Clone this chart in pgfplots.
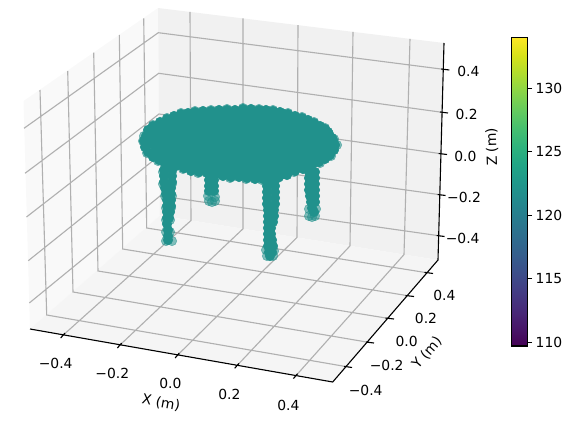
\documentclass[border=0pt]{standalone}
\usepackage{fontspec}
\setmainfont{DejaVu Sans}
\usepackage{pgfplots}
\pgfplotsset{compat=1.18}
\definecolor{ptcol}{HTML}{21918C}
\definecolor{panex}{HTML}{F9F9F9}
\definecolor{paney}{HTML}{F1F1F1}
\definecolor{panez}{HTML}{F5F5F5}
\definecolor{gridc}{HTML}{B0B0B0}
% the 3D view is perspective, so everything is given in projected picture
% coordinates (pixels of the 577x432 figure, y downward)
\begin{document}
\begin{tikzpicture}[every node/.style={font=\fontsize{10bp}{12bp}\selectfont,inner sep=0pt}]
\useasboundingbox (0,0) rectangle (415.44bp,311.04bp);
\begin{axis}[
    at={(0,0)}, anchor=south west,
    scale only axis,
    width=415.44bp, height=311.04bp,
    xmin=0, xmax=577, ymin=0, ymax=432,
    y dir=reverse,
    hide axis,
    clip=false,
    unbounded coords=jump,
    colormap/viridis,
    point meta min=109.7, point meta max=134,
    colorbar,
    colorbar style={
        at={(359.93bp,61.9bp)}, anchor=south west,
        width=11.2bp, height=222.3bp,
        ytick={110,115,120,125,130},
        ytick pos=right,
        tick align=outside,
        major tick length=3.5bp,
        tick style={draw=black,line width=0.8bp},
        axis line style={line width=0.8bp},
        every axis/.append style={line width=0.8bp},
        yticklabel style={font=\fontsize{10bp}{12bp}\selectfont,/pgf/number format/assume math mode=true,xshift=2.2bp},
    },
]
% panes
\addplot[fill=panex,draw=none] coordinates {(30,329) (160,215.5) (158,8) (23.5,101)} -- cycle;
\addplot[fill=paney,draw=none] coordinates {(160,215.5) (438,260) (444,43) (158,8)} -- cycle;
\addplot[fill=panez,draw=none] coordinates {(30,329) (332.7,382) (438,260) (160,215.5)} -- cycle;
% grid
\addplot[gridc,line width=0.8bp] coordinates {
 (190,11.9) (191,220.5) (63.3,335) (nan,nan)
 (243,18.4) (243,228.8) (120,345) (nan,nan)
 (298,25.1) (297,237.4) (177.7,355) (nan,nan)
 (353,31.9) (350,245.9) (237.3,365.3) (nan,nan)
 (410,38.8) (404,254.6) (296,375.6) (nan,nan)
 (40,90) (46.7,315) (346.7,366.7) (nan,nan)
 (67.7,71) (73,292) (368.3,342.3) (nan,nan)
 (93.7,52.7) (98,271) (387.7,318.3) (nan,nan)
 (119.3,35) (122.7,249) (407.7,295.7) (nan,nan)
 (143.7,18.3) (146.7,228) (426.7,272.7) (nan,nan)
 (24,128.3) (158.3,32.7) (443.3,69.3) (nan,nan)
 (25,173.3) (158.7,73.3) (442,112.3) (nan,nan)
 (26.5,217) (159,114) (441,153.7) (nan,nan)
 (28.3,260.7) (159.5,155.5) (439.8,194.7) (nan,nan)
 (29.3,303) (160,196) (438.7,235.7)
};
% axis lines and ticks
\addplot[black,line width=0.8bp] coordinates {
 (30,329) (332.7,382) (438,260) (444,43) (nan,nan)
 (64.9,333.1) (60.7,338) (nan,nan)
 (121.6,343.1) (117.4,348) (nan,nan)
 (179.3,353.1) (175.1,358) (nan,nan)
 (238.9,363.4) (234.7,368.3) (nan,nan)
 (297.6,373.7) (293.4,378.6) (nan,nan)
 (344,366.3) (352,367.5) (nan,nan)
 (366,342) (374,343) (nan,nan)
 (385.5,318) (394,319) (nan,nan)
 (405.5,295.5) (414,296.5) (nan,nan)
 (424.5,272.3) (433,273.5) (nan,nan)
 (441.3,69) (449.3,70) (nan,nan)
 (440,112) (448,113) (nan,nan)
 (438.7,153.5) (447,154.5) (nan,nan)
 (437.7,194.5) (445.5,195.5) (nan,nan)
 (436.7,235.5) (444.5,236.5)
};
% seat rim and legs, single translucent points
\addplot[only marks,mark=*,mark size=3.4bp,mark options={draw=ptcol,line width=0.4bp,fill=ptcol,fill opacity=0.55,draw opacity=0.55}] coordinates {
 (144,136)(153,125)(167,118)(181,113)(195,111)(211,110)(227,109)(243,108)(259,109)(273,110)(288,113)(302,117)(314,122)(325,128)(334,139)(337,145)(331,156)(320,163)
 (143,141)(147,153)(158,161)
 (166,165)(183,169)(198,173)(214,175)(230,178)(246,179)(262,180)(278,178)(294,172)(310,167)
 (163,172)(172,172)(163,184)(172,184)(165,196)(172,196)(166,208)(171,208)(166,220)(170,220)(166,232)(170,232)(166,241)(172,241)
 (267,256)(273,256)(266,250)(274,251)
 (208,196)(215,197)(209,201)(215,201)(212,202)
 (309,216)(315,216)(312,217)(309,209)(316,209)
};
% seat body and leg cores, where the points overlap until they are opaque
\addplot[only marks,mark=*,mark size=3.4bp,mark options={draw=ptcol,line width=0.4bp,fill=ptcol}] coordinates {
 (188,114)(196,114)(204,114)(212,114)(220,114)(228,114)(236,114)(244,114)(252,114)(260,114)(268,114)(276,114)(284,114)
 (168,120)(176,120)(184,120)(192,120)(200,120)(208,120)(216,120)(224,120)(232,120)(240,120)(248,120)(256,120)(264,120)(272,120)(280,120)(288,120)(296,120)(304,120)
 (156,126)(164,126)(172,126)(180,126)(188,126)(196,126)(204,126)(212,126)(220,126)(228,126)(236,126)(244,126)(252,126)(260,126)(268,126)(276,126)(284,126)(292,126)(300,126)(308,126)(316,126)
 (152,132)(160,132)(168,132)(176,132)(184,132)(192,132)(200,132)(208,132)(216,132)(224,132)(232,132)(240,132)(248,132)(256,132)(264,132)(272,132)(280,132)(288,132)(296,132)(304,132)(312,132)(320,132)(328,132)
 (148,138)(156,138)(164,138)(172,138)(180,138)(188,138)(196,138)(204,138)(212,138)(220,138)(228,138)(236,138)(244,138)(252,138)(260,138)(268,138)(276,138)(284,138)(292,138)(300,138)(308,138)(316,138)(324,138)(332,138)
 (152,144)(160,144)(168,144)(176,144)(184,144)(192,144)(200,144)(208,144)(216,144)(224,144)(232,144)(240,144)(248,144)(256,144)(264,144)(272,144)(280,144)(288,144)(296,144)(304,144)(312,144)(320,144)(328,144)
 (156,150)(164,150)(172,150)(180,150)(188,150)(196,150)(204,150)(212,150)(220,150)(228,150)(236,150)(244,150)(252,150)(260,150)(268,150)(276,150)(284,150)(292,150)(300,150)(308,150)(316,150)(324,150)(332,150)
 (160,156)(168,156)(176,156)(184,156)(192,156)(200,156)(208,156)(216,156)(224,156)(232,156)(240,156)(248,156)(256,156)(264,156)(272,156)(280,156)(288,156)(296,156)(304,156)(312,156)(320,156)(328,156)
 (164,162)(172,162)(180,162)(188,162)(196,162)(204,162)(212,162)(220,162)(228,162)(236,162)(244,162)(252,162)(260,162)(268,162)(276,162)(284,162)(292,162)(300,162)(308,162)(316,162)
 (184,168)(192,168)(200,168)(208,168)(216,168)(224,168)(232,168)(240,168)(248,168)(256,168)(264,168)(272,168)(280,168)(288,168)(296,168)(304,168)
 (212,174)(220,174)(228,174)(236,174)(244,174)(252,174)(260,174)(268,174)(276,174)(284,174)
 (146,136)(148,130)(153,126)(160,122)(167,119)(174,116)(181,114)(188,113)(195,112)(203,111)(211,111)(219,110)(227,110)(235,110)(243,109)(251,109)(259,110)(266,110)(273,111)(280,112)(288,114)(295,116)(302,118)(308,120)(314,123)(320,126)(325,129)(329,134)(333,140)(335,145)(334,150)(330,155)(325,159)(319,162)
 (144,141)(145,147)(148,152)(153,157)(159,160)(167,164)(176,166)
 (184,168)(191,171)(199,172)(207,173)(215,174)(223,176)(231,177)(239,177)(247,178)(255,179)(263,179)(271,179)(279,177)(287,175)(295,171)(303,169)(311,166)
 (164,170)(172,170)(164,176)(172,176)(164,182)(172,182)(165,188)(171,188)(166,194)(171,194)(167,200)(171,200)(167,206)(171,206)(167,212)(170,212)(167,218)(169,218)(167,224)(168,230)(168,236)(168,240)
 (267,180)(275,180)(267,186)(275,186)(267,192)(275,192)(267,198)(275,198)(267,204)(275,204)(268,210)(274,210)(268,216)(274,216)(268,222)(273,222)(268,228)(271,228)(268,234)(271,234)(268,240)(272,240)(268,246)(273,246)(269,252)(272,252)(270,256)
 (209,180)(214,180)(209,186)(214,186)(209,191)(214,191)
 (309,172)(315,172)(309,178)(315,178)(309,184)(315,184)(309,190)(315,190)(310,196)(315,196)(311,202)(315,202)(312,208)(314,212)
};
% tick labels and axis labels
\node at (axis cs:55.7,363) {−0.4};
\node at (axis cs:112.3,373) {−0.2};
\node at (axis cs:170.3,383) {0.0};
\node at (axis cs:229.3,394) {0.2};
\node at (axis cs:288.3,405) {0.4};
\node at (axis cs:365.7,390.7) {−0.4};
\node at (axis cs:386.7,365) {−0.2};
\node at (axis cs:406.7,341) {0.0};
\node at (axis cs:426,318.3) {0.2};
\node at (axis cs:444.3,295) {0.4};
\node at (axis cs:468.3,71.7) {0.4};
\node at (axis cs:466.7,114.7) {0.2};
\node at (axis cs:465.3,156) {0.0};
\node at (axis cs:464,197) {−0.2};
\node at (axis cs:462.7,238.3) {−0.4};
\node[rotate=-10] at (axis cs:161,403) {X (m)};
\node[rotate=49] at (axis cs:427,353) {Y (m)};
\node[rotate=92] at (axis cs:492,147) {Z (m)};
\end{axis}
\end{tikzpicture}
\end{document}
